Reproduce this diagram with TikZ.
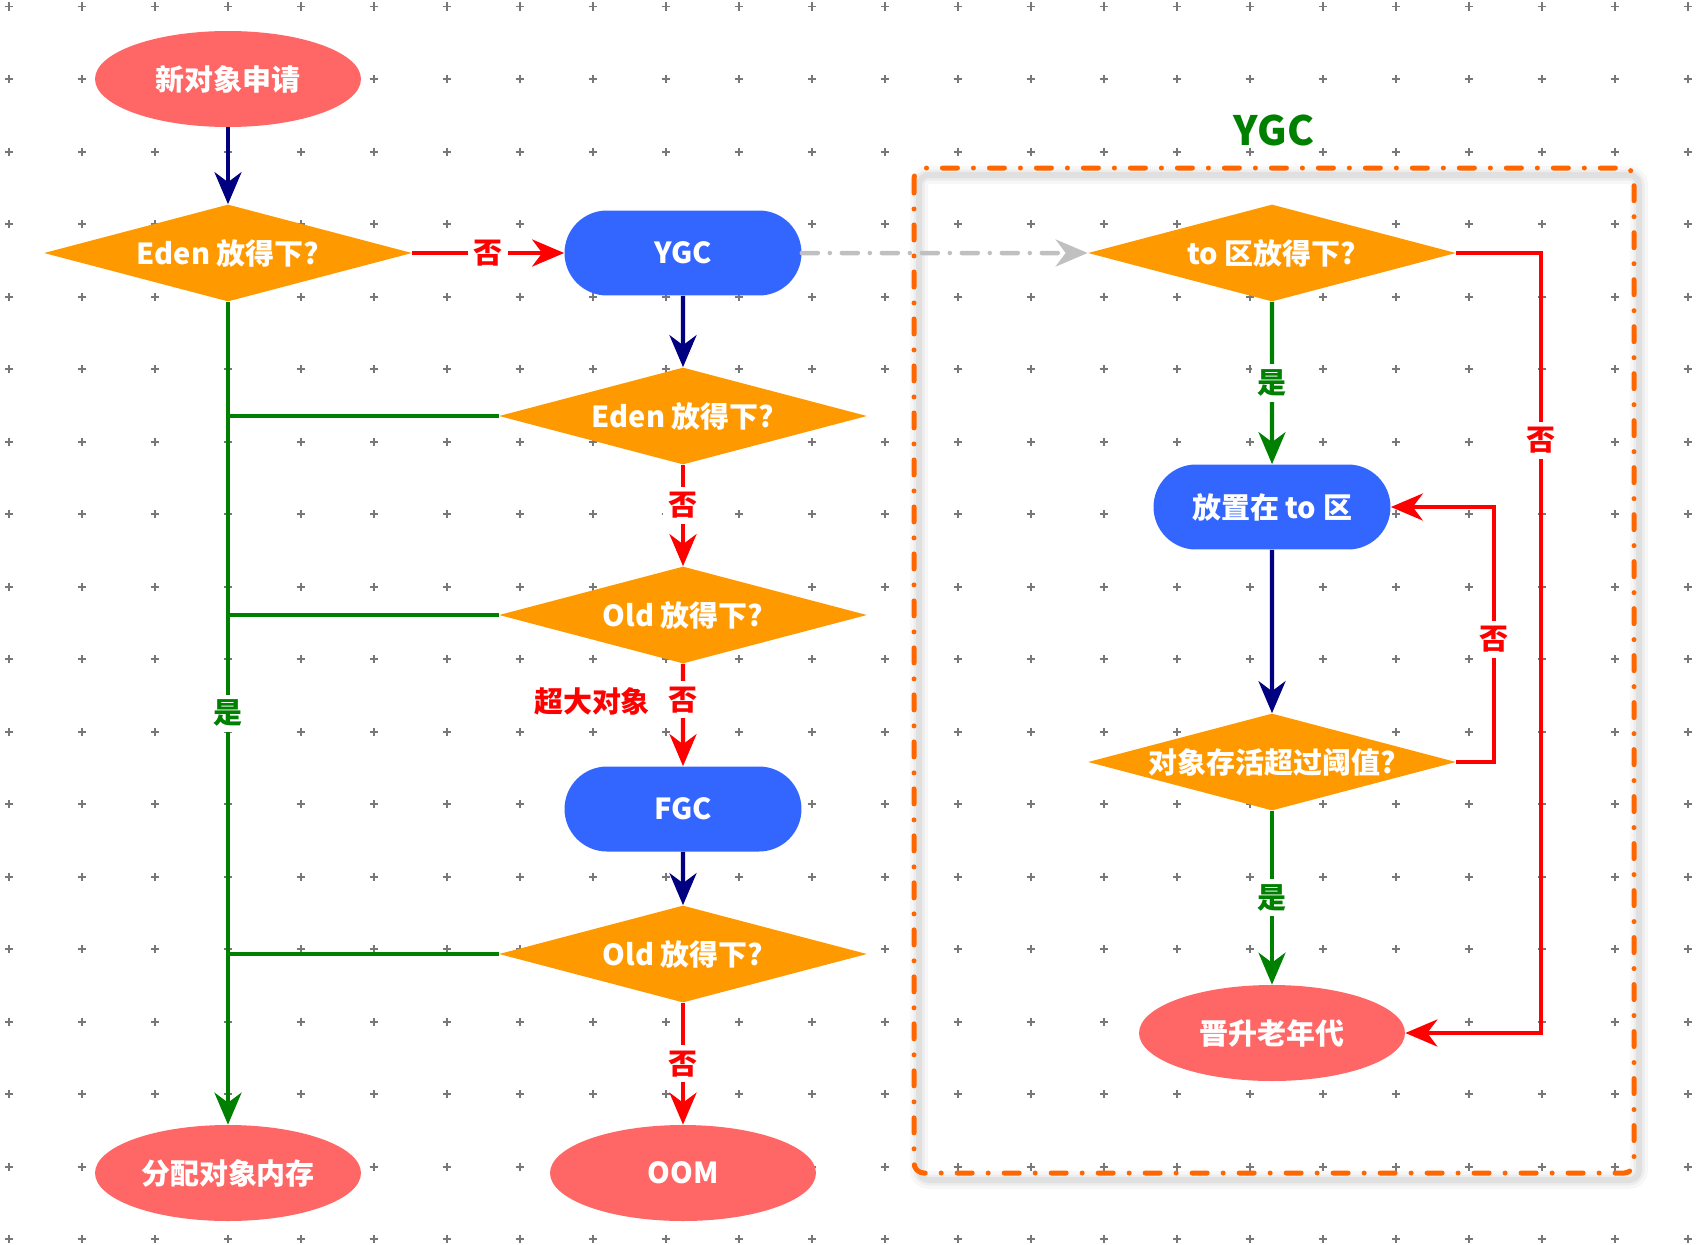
\documentclass[tikz,border=0pt]{standalone}
\usepackage{fontspec}
\setmainfont{Noto Sans CJK SC}
\usetikzlibrary{arrows.meta,shapes.geometric,shapes.misc}

\definecolor{nodered}{RGB}{255,102,102}
\definecolor{nodeblue}{RGB}{51,102,255}
\definecolor{nodeorange}{RGB}{255,153,0}
\definecolor{boxorange}{RGB}{255,102,0}
\definecolor{linenavy}{RGB}{0,0,128}
\definecolor{linegreen}{RGB}{0,128,0}
\definecolor{linered}{RGB}{255,0,0}
\definecolor{linegray}{RGB}{192,192,192}
\definecolor{gridgray}{RGB}{120,120,120}

\tikzset{
  txt/.style={font=\bfseries\fontsize{16.5}{20}\selectfont},
  term/.style={ellipse,fill=nodered,text=white,txt,minimum width=5.32cm,minimum height=1.92cm,inner sep=0pt},
  proc/.style={rounded rectangle,fill=nodeblue,text=white,txt,minimum width=4.74cm,minimum height=1.7cm,inner sep=0pt},
  ask/.style={diamond,fill=nodeorange,text=white,txt,minimum width=7.36cm,minimum height=1.94cm,aspect=3.8,inner sep=0pt},
  arrowtip/.style={-{Stealth[length=6.4mm,width=5.4mm,inset=2mm]}},
  navyline/.style={linenavy,line width=0.85mm,arrowtip},
  yesline/.style={linegreen,line width=0.85mm},
  noline/.style={linered,line width=0.85mm},
  grayline/.style={linegray,line width=0.9mm,line cap=round,dash pattern=on 0.32cm off 0.24cm on 0cm off 0.24cm,arrowtip},
  yeslabel/.style={fill=white,text=linegreen,txt,inner sep=3pt},
  nolabel/.style={fill=white,text=linered,txt,inner sep=3pt},
}

\begin{document}
\begin{tikzpicture}[x=0.02cm,y=-0.02cm]
\fill[white] (0,0) rectangle (1700,1244);
\useasboundingbox (0,0) rectangle (1700,1244);
\foreach \i in {0,...,23}
  \foreach \j in {0,...,17}
    \draw[gridgray,line width=0.4mm] (8.7+73*\i-4,6.5+72.5*\j) -- ++(8,0) (8.7+73*\i,6.5+72.5*\j-4) -- ++(0,8);

% YGC area
\foreach \w/\o in {18/0.03,11/0.04,6/0.05}
  \draw[black,opacity=\o,line width=\w*0.2mm,rounded corners=0.2cm] (919,175) rectangle (1639,1180);
\draw[boxorange,line width=1mm,line cap=round,rounded corners=0.2cm,dash pattern=on 0.3cm off 0.32cm on 0cm off 0.32cm] (914,168) rectangle (1634,1173);
\node[text=linegreen,font=\bfseries\fontsize{23}{26}\selectfont] (ygctitle) at (1274,130) {YGC};

\node[term] (new) at (228,79) {新对象申请};
\node[ask] (eden1) at (228,253) {Eden 放得下?};
\node[proc] (ygc) at (683,253) {YGC};
\node[ask] (eden2) at (683,416) {Eden 放得下?};
\node[ask] (old1) at (683,615) {Old 放得下?};
\node[proc] (fgc) at (683,809) {FGC};
\node[ask] (old2) at (683,954) {Old 放得下?};
\node[term] (alloc) at (228,1173) {分配对象内存};
\node[term] (oom) at (683,1173) {OOM};
\node[ask] (tofit) at (1272,253) {to 区放得下?};
\node[proc] (toput) at (1272,507) {放置在 to 区};
\node[ask] (age) at (1272,762) {对象存活超过阈值?};
\node[term] (promote) at (1272,1033) {晋升老年代};
\node[text=linered,txt] (big) at (592,701) {超大对象};
\coordinate (loopr) at (1541,1033);
\coordinate (loopa) at (1494,507);

\draw[navyline] (new) -- (eden1);
\draw[noline,arrowtip] (eden1) -- node[nolabel] {否} (ygc);
\draw[navyline] (ygc) -- (eden2);
\draw[grayline] (ygc) -- (tofit);
\draw[yesline,arrowtip] (eden1) -- node[yeslabel] {是} (alloc);
\draw[yesline] (eden2.west) -- (eden2.west -| eden1.south);
\draw[yesline] (old1.west) -- (old1.west -| eden1.south);
\draw[yesline] (old2.west) -- (old2.west -| eden1.south);
\draw[noline,arrowtip] (eden2) -- node[nolabel,pos=0.4] {否} (old1);
\draw[noline,arrowtip] (old1) -- node[nolabel,pos=0.35] {否} (fgc);
\draw[navyline] (fgc) -- (old2);
\draw[noline,arrowtip] (old2) -- node[nolabel] {否} (oom);
\draw[yesline,arrowtip] (tofit) -- node[yeslabel] {是} (toput);
\draw[navyline] (toput) -- (age);
\draw[yesline,arrowtip] (age) -- node[yeslabel] {是} (promote);
\draw[noline,arrowtip] (tofit.east) -| node[nolabel,pos=0.62] {否} (loopr) -- (promote.east);
\draw[noline,arrowtip] (age.east) -| node[nolabel,pos=0.74] {否} (loopa) -- (toput.east);
\end{tikzpicture}
\end{document}
